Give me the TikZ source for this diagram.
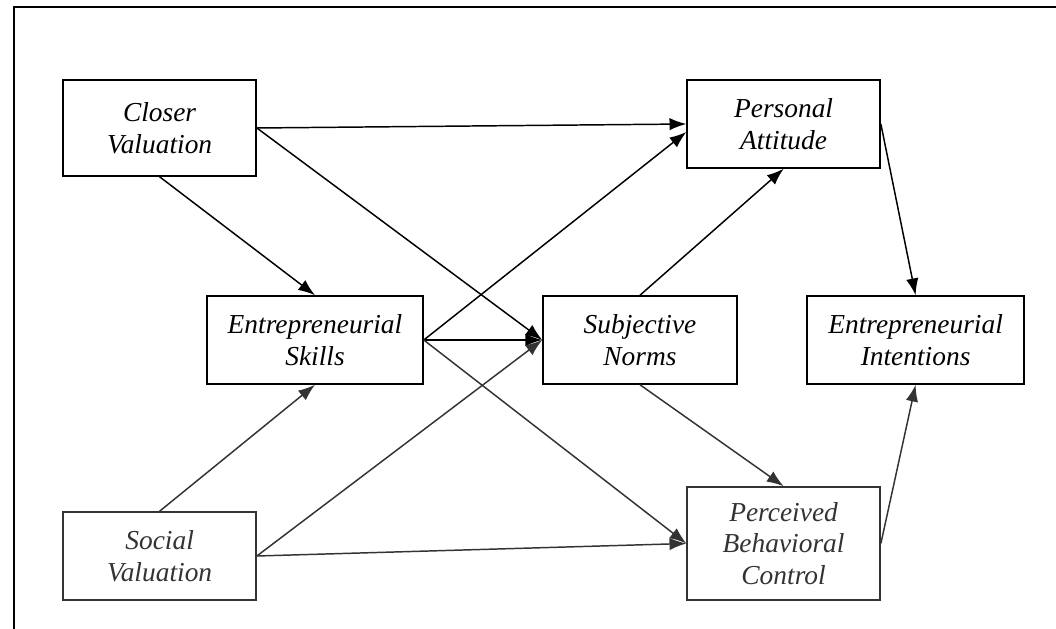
\documentclass[tikz,border=0pt]{standalone}
\usepackage{fontspec}
\setmainfont{Liberation Serif}
\usepackage{tikz}
\usetikzlibrary{arrows.meta}
\definecolor{softblack}{HTML}{333333}
\tikzset{
  box/.style={draw, line width=1.1pt, inner sep=0pt, align=center,
    font=\fontsize{19.5}{22.5}\selectfont\itshape},
  link/.style={line width=1.05pt, -{Latex[length=4.2mm,width=3.1mm]}}
}
\begin{document}
\begin{tikzpicture}
        \useasboundingbox (0,0) rectangle (26.4,15.725);
        \draw[line width=1.3pt] (0.35,0)--(0.35,15.55)--(26.4,15.55);
        % boxes
        \node[box, minimum width=4.825cm, minimum height=2.4cm] (closer) at (3.99,12.525) {Closer\\Valuation};
        \node[box, minimum width=4.825cm, minimum height=2.2cm] (attitude) at (19.59,12.625) {Personal\\Attitude};
        \node[box, minimum width=5.4cm, minimum height=2.2cm] (skills) at (7.875,7.225) {Entrepreneurial\\Skills};
        \node[box, minimum width=4.85cm, minimum height=2.2cm] (norms) at (16.0,7.225) {Subjective\\Norms};
        \node[box, minimum width=5.425cm, minimum height=2.2cm] (intent) at (22.89,7.225) {Entrepreneurial\\Intentions};
        \node[box, draw=softblack, text=softblack, minimum width=4.825cm, minimum height=2.2cm] (social) at (3.99,1.825) {Social\\Valuation};
        \node[box, draw=softblack, text=softblack, minimum width=4.825cm, minimum height=2.825cm] (control) at (19.59,2.1375) {Perceived\\Behavioral\\Control};
        % links
        \draw[link] (closer.east)--(attitude.west);
        \draw[link] (closer.east)--(norms.west);
        \draw[link] (closer.south)--(skills.north);
        \draw[link] (skills.east)--([yshift=-0.2cm]attitude.west);
        \draw[link] (skills.east)--(norms.west);
        \draw[link, softblack] (skills.east)--(control.west);
        \draw[link, softblack] (social.north)--(skills.south);
        \draw[link, softblack] (social.east)--(norms.west);
        \draw[link, softblack] (social.east)--(control.west);
        \draw[link] (norms.north)--(attitude.south);
        \draw[link, softblack] (norms.south)--(control.north);
        \draw[link] (attitude.east)--(intent.north);
        \draw[link, softblack] (control.east)--(intent.south);
\end{tikzpicture}
\end{document}
